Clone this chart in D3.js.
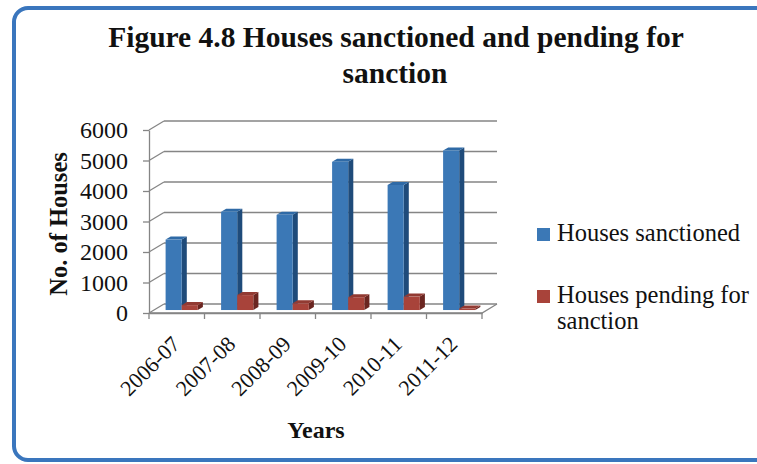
<!DOCTYPE html>
<html>
<head>
<meta charset="utf-8">
<script src="https://cdn.jsdelivr.net/npm/d3@7"></script>
<style>
  html, body { margin: 0; padding: 0; background: #fff; }
  svg { display: block; }
  text { font-family: "Liberation Serif", "Times New Roman", serif; fill: #111; }
</style>
</head>
<body>
<svg id="chart" width="757" height="464"></svg>
<script>
// Chart data
const years = ["2006-07", "2007-08", "2008-09", "2009-10", "2010-11", "2011-12"];
const seriesNames = ["Houses sanctioned", "Houses pending for sanction"];
const sanctioned = [2310, 3220, 3120, 4860, 4100, 5230];
const pending = [160, 490, 220, 420, 440, 50];
const yTicks = [0, 1000, 2000, 3000, 4000, 5000, 6000];

const colors = {
  "Houses sanctioned": { front: "#3b78b6", top: "#2f6aa6", side: "#1f4b7a" },
  "Houses pending for sanction": { front: "#a8433a", top: "#923a32", side: "#6a2520" }
};

const serif = "Liberation Serif, Times New Roman, serif";
const svg = d3.select("#chart");

// Rounded outer frame
svg.append("rect")
  .attr("x", 14).attr("y", 8)
  .attr("width", 760).attr("height", 452)
  .attr("rx", 14).attr("ry", 14)
  .attr("fill", "#fff")
  .attr("stroke", "#3a76bd")
  .attr("stroke-width", 4);

// Plot geometry: front plane and depth offset of the back wall
const plot = { left: 149, right: 482, top: 130, bottom: 313 };
const depth = { dx: 15, dy: -9 };

const x0 = d3.scaleBand()
  .domain(years)
  .range([plot.left, plot.right])
  .paddingInner(0.42)
  .paddingOuter(0.21);

const x1 = d3.scaleBand()
  .domain(seriesNames)
  .range([0, x0.bandwidth()]);

const y = d3.scaleLinear()
  .domain([0, 6000])
  .range([plot.bottom, plot.top]);

const gridColor = "#858585";
const grid = svg.append("g").attr("stroke", gridColor).attr("stroke-width", 1.3).attr("fill", "none");

// Back wall gridlines with side-wall diagonals
yTicks.forEach(v => {
  grid.append("line")
    .attr("x1", plot.left + depth.dx).attr("y1", y(v) + depth.dy)
    .attr("x2", plot.right + depth.dx).attr("y2", y(v) + depth.dy);
  grid.append("line")
    .attr("x1", plot.left).attr("y1", y(v))
    .attr("x2", plot.left + depth.dx).attr("y2", y(v) + depth.dy);
});

// Floor outline
grid.append("path")
  .attr("d", `M${plot.left},${plot.bottom} L${plot.right},${plot.bottom} L${plot.right + depth.dx},${plot.bottom + depth.dy}`);

// 3D bars
const tFront = 0.33, tBack = 0.67;
const rows = years.map((yr, i) => ({
  year: yr,
  values: [
    { name: seriesNames[0], value: sanctioned[i] },
    { name: seriesNames[1], value: pending[i] }
  ]
}));

const bars = svg.append("g");
rows.forEach(row => {
  row.values.forEach(d => {
    const c = colors[d.name];
    const fx = x0(row.year) + x1(d.name) + depth.dx * tFront;
    const w = x1.bandwidth();
    const yTop = y(d.value) + depth.dy * tFront;
    const yBase = y(0) + depth.dy * tFront;
    const ox = depth.dx * (tBack - tFront), oy = depth.dy * (tBack - tFront);
    const g = bars.append("g");
    // right side face
    g.append("path")
      .attr("d", `M${fx + w},${yTop} L${fx + w + ox},${yTop + oy} L${fx + w + ox},${yBase + oy} L${fx + w},${yBase} Z`)
      .attr("fill", c.side);
    // top face
    g.append("path")
      .attr("d", `M${fx},${yTop} L${fx + ox},${yTop + oy} L${fx + w + ox},${yTop + oy} L${fx + w},${yTop} Z`)
      .attr("fill", c.top);
    // front face
    g.append("rect")
      .attr("x", fx).attr("y", yTop)
      .attr("width", w).attr("height", yBase - yTop)
      .attr("fill", c.front);
  });
});

// Y axis (front edge)
const yAxis = svg.append("g")
  .attr("transform", `translate(${plot.left},0)`)
  .call(d3.axisLeft(y).tickValues(yTicks).tickFormat(d3.format("d")).tickSize(6).tickSizeOuter(0).tickPadding(15));
yAxis.select(".domain").attr("stroke", gridColor).attr("stroke-width", 1.3);
yAxis.selectAll(".tick line").attr("stroke", gridColor).attr("stroke-width", 1.3);
yAxis.selectAll(".tick text")
  .attr("font-family", serif)
  .attr("font-size", 24).attr("fill", "#111");

// X axis (front floor edge)
const xAxis = svg.append("g")
  .attr("transform", `translate(0,${plot.bottom})`)
  .call(d3.axisBottom(x0).tickSize(0).tickSizeOuter(0));
xAxis.select(".domain").attr("stroke", gridColor).attr("stroke-width", 1.3);
xAxis.selectAll(".tick text")
  .attr("font-family", serif)
  .attr("font-size", 22).attr("fill", "#111")
  .attr("text-anchor", "end")
  .attr("x", 0).attr("y", 0).attr("dy", "0.35em")
  .attr("transform", "translate(-1,27) rotate(-45)");

// Category boundary ticks
const boundaries = d3.range(years.length + 1).map(i => plot.left + i * x0.step());
svg.append("g").selectAll("line").data(boundaries).join("line")
  .attr("x1", d => d).attr("x2", d => d)
  .attr("y1", plot.bottom).attr("y2", plot.bottom + 6)
  .attr("stroke", gridColor).attr("stroke-width", 1.3);

// Titles
svg.append("text")
  .attr("x", 396).attr("y", 47)
  .attr("text-anchor", "middle")
  .attr("font-size", 29.5).attr("font-weight", "bold")
  .text("Figure 4.8 Houses sanctioned and pending for");
svg.append("text")
  .attr("x", 395).attr("y", 83)
  .attr("text-anchor", "middle")
  .attr("font-size", 29.5).attr("font-weight", "bold")
  .text("sanction");

svg.append("text")
  .attr("transform", "translate(67,224) rotate(-90)")
  .attr("text-anchor", "middle")
  .attr("font-size", 24.5).attr("font-weight", "bold")
  .text("No. of Houses");

svg.append("text")
  .attr("x", 316).attr("y", 438)
  .attr("text-anchor", "middle")
  .attr("font-size", 24).attr("font-weight", "bold")
  .text("Years");

// Legend
const legend = svg.append("g").attr("transform", "translate(537,228)");
const legendRows = [
  { name: seriesNames[0], lines: ["Houses sanctioned"], dy: 0 },
  { name: seriesNames[1], lines: ["Houses pending for", "sanction"], dy: 62 }
];
legendRows.forEach(r => {
  const g = legend.append("g").attr("transform", `translate(0,${r.dy})`);
  g.append("rect").attr("width", 13).attr("height", 13).attr("fill", colors[r.name].front);
  const t = g.append("text").attr("x", 20).attr("y", 13).attr("font-size", 24.5);
  r.lines.forEach((ln, i) => {
    t.append("tspan").attr("x", 20).attr("dy", i === 0 ? 0 : 26).text(ln);
  });
});
</script>
</body>
</html>
